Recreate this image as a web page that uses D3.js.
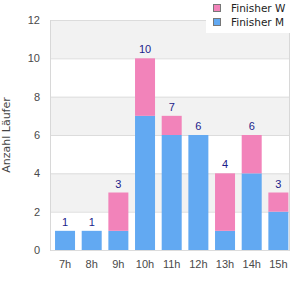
<!DOCTYPE html>
<html>
<head>
<meta charset="utf-8">
<script src="https://cdn.jsdelivr.net/npm/d3@7"></script>
<style>
  body { margin: 0; background: #fff; }
  text { font-family: "Liberation Sans", Arial, sans-serif; }
</style>
</head>
<body>
<svg id="chart"></svg>
<script>
// data
var hours = ["7h", "8h", "9h", "10h", "11h", "12h", "13h", "14h", "15h"];
var finisherM = [1, 1, 1, 7, 6, 6, 1, 4, 2];
var finisherW = [0, 0, 2, 3, 1, 0, 3, 2, 1];
var yTicks = [0, 2, 4, 6, 8, 10, 12];
var seriesNames = ["Finisher W", "Finisher M"];

var colorM = "#62a9f2", colorW = "#f283ba";

var margin = { left: 50, right: 10, top: 20, bottom: 50 },
    width = 300 - margin.left - margin.right,
    height = 300 - margin.top - margin.bottom;

var svg = d3.select("#chart").attr("width", 300).attr("height", 300);
var g = svg.append("g")
    .attr("transform", "translate(" + margin.left + "," + margin.top + ")");

var x = d3.scaleBand().domain(hours).range([1.7, width + 1.7])
    .paddingInner(0.25).paddingOuter(0.125);
var y = d3.scaleLinear().domain([0, 12]).range([height, 0]);

// alternating bands
for (var i = 0; i < yTicks.length - 1; i++) {
  g.append("rect")
    .attr("x", 0)
    .attr("y", y(yTicks[i + 1]))
    .attr("width", width)
    .attr("height", y(yTicks[i]) - y(yTicks[i + 1]))
    .attr("fill", i % 2 == 1 ? "#f2f2f2" : "#fff");
}

// grid lines
g.selectAll(".grid").data(yTicks).enter().append("line")
    .attr("x1", 0).attr("x2", width)
    .attr("y1", function(d) { return y(d) + 0.5; })
    .attr("y2", function(d) { return y(d) + 0.5; })
    .attr("stroke", "#dcdcdc");
g.append("line").attr("x1", 0.5).attr("x2", 0.5).attr("y1", 0).attr("y2", height + 1)
    .attr("stroke", "#d8d8d8");
g.append("line").attr("x1", width - 0.5).attr("x2", width - 0.5).attr("y1", 0).attr("y2", height + 1)
    .attr("stroke", "#d8d8d8");

// stacked bars
var stackData = hours.map(function(h, i) { return { hour: h, m: finisherM[i], w: finisherW[i] }; });
var series = d3.stack().keys(["m", "w"])(stackData);
g.selectAll(".layer").data(series).enter().append("g")
    .attr("fill", function(d) { return d.key == "m" ? colorM : colorW; })
  .selectAll("rect").data(function(d) { return d; }).enter().append("rect")
    .attr("x", function(d) { return x(d.data.hour); })
    .attr("y", function(d) { return y(d[1]); })
    .attr("width", x.bandwidth())
    .attr("height", function(d) { return y(d[0]) - y(d[1]); });

// totals
g.selectAll(".total").data(stackData).enter().append("text")
    .attr("x", function(d) { return x(d.hour) + x.bandwidth() / 2; })
    .attr("y", function(d) { return y(d.m + d.w) - 5; })
    .attr("text-anchor", "middle")
    .attr("font-size", "11px")
    .attr("fill", "#1c1c8a")
    .text(function(d) { return d.m + d.w; });

// y axis labels
g.selectAll(".ytick").data(yTicks).enter().append("text")
    .attr("x", -10)
    .attr("y", function(d) { return y(d); })
    .attr("dy", "0.35em")
    .attr("text-anchor", "end")
    .attr("font-size", "11px")
    .attr("fill", "#4a4a4a")
    .text(function(d) { return d; });

// x axis labels
g.selectAll(".xtick").data(hours).enter().append("text")
    .attr("x", function(d) { return x(d) + x.bandwidth() / 2; })
    .attr("y", height + 18)
    .attr("text-anchor", "middle")
    .attr("font-size", "11px")
    .attr("fill", "#4a4a4a")
    .text(function(d) { return d; });

// y axis title
svg.append("text")
    .attr("transform", "translate(10," + (margin.top + height / 2) + ") rotate(-90)")
    .attr("text-anchor", "middle")
    .style("font-family", "'DejaVu Sans', sans-serif")
    .attr("font-size", "11px")
    .attr("fill", "#444")
    .text("Anzahl Läufer");

// legend
var legend = svg.append("g");
legend.append("rect")
    .attr("x", 206).attr("y", 0).attr("width", 84).attr("height", 33)
    .attr("fill", "#fff");
var legColors = [colorW, colorM];
seriesNames.forEach(function(name, i) {
  legend.append("rect")
    .attr("x", 213.5).attr("y", 4.5 + i * 14)
    .attr("width", 7).attr("height", 7)
    .attr("fill", legColors[i])
    .attr("stroke", "#777");
  legend.append("text")
    .attr("x", 231).attr("y", 8 + i * 14)
    .attr("dy", "0.35em")
    .style("font-family", "'DejaVu Sans', sans-serif")
    .attr("font-size", "10.5px")
    .attr("fill", "#222")
    .text(name);
});
</script>
</body>
</html>
